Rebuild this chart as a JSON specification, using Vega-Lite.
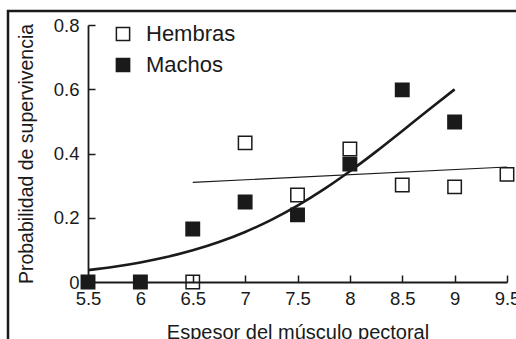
{
  "$schema": "https://vega.github.io/schema/vega-lite/v6.json",
  "width": 520,
  "height": 340,
  "autosize": {"type": "none"},
  "padding": {"left": 8, "top": 11, "right": 0, "bottom": 0},
  "background": "white",
  "config": {
    "view": {"stroke": "#1a1a1a", "strokeWidth": 2.5},
    "font": "Liberation Sans",
    "axis": {
      "grid": false,
      "domainColor": "#1a1a1a",
      "domainWidth": 1.8,
      "tickColor": "#1a1a1a",
      "tickWidth": 1.5,
      "labelColor": "#1a1a1a",
      "titleColor": "#1a1a1a",
      "labelFont": "Liberation Sans",
      "titleFont": "Liberation Sans",
      "titleFontWeight": "normal"
    },
    "legend": {"labelFont": "Liberation Sans"}
  },
  "encoding": {
    "x": {
      "field": "espesor",
      "type": "quantitative",
      "scale": {"domain": [5.5, 9.5], "range": [80, 499], "nice": false, "zero": false},
      "axis": {
        "orient": "bottom",
        "offset": -69,
        "values": [5.5, 6, 6.5, 7, 7.5, 8, 8.5, 9, 9.5],
        "format": "~g",
        "tickSize": -7,
        "labelPadding": 14,
        "labelFontSize": 18.5,
        "labelFlush": false,
        "labelOverlap": false,
        "title": "Espesor del músculo pectoral",
        "titleFontSize": 20,
        "titlePadding": 15
      }
    },
    "y": {
      "field": "prob",
      "type": "quantitative",
      "scale": {"domain": [0, 0.8], "range": [271, 14], "nice": false, "zero": false},
      "axis": {
        "orient": "left",
        "offset": -80,
        "values": [0, 0.2, 0.4, 0.6, 0.8],
        "format": "~g",
        "tickSize": -7,
        "labelPadding": 16,
        "labelFontSize": 18.5,
        "labelFlush": false,
        "labelOverlap": false,
        "title": "Probabilidad de supervivencia",
        "titleFontSize": 19.5,
        "titlePadding": 17
      }
    }
  },
  "layer": [
    {
      "data": {"values": [
        {"espesor": 5.5, "prob": 0.037},
        {"espesor": 5.75, "prob": 0.0475},
        {"espesor": 6.0, "prob": 0.0609},
        {"espesor": 6.25, "prob": 0.0776},
        {"espesor": 6.5, "prob": 0.0986},
        {"espesor": 6.75, "prob": 0.1244},
        {"espesor": 7.0, "prob": 0.1558},
        {"espesor": 7.25, "prob": 0.1934},
        {"espesor": 7.5, "prob": 0.2376},
        {"espesor": 7.75, "prob": 0.2882},
        {"espesor": 8.0, "prob": 0.3447},
        {"espesor": 8.25, "prob": 0.4058},
        {"espesor": 8.5, "prob": 0.4703},
        {"espesor": 8.75, "prob": 0.5356},
        {"espesor": 9.0, "prob": 0.5996}
      ]},
      "mark": {"type": "line", "color": "#1a1a1a", "strokeWidth": 2.6, "interpolate": "monotone"}
    },
    {
      "data": {"values": [
        {"espesor": 6.5, "prob": 0.31},
        {"espesor": 9.5, "prob": 0.358}
      ]},
      "mark": {"type": "line", "color": "#1a1a1a", "strokeWidth": 1.1}
    },
    {
      "data": {"values": [
        {"sexo": "Hembras", "espesor": 6.5, "prob": 0.0},
        {"sexo": "Hembras", "espesor": 7.0, "prob": 0.433},
        {"sexo": "Hembras", "espesor": 7.5, "prob": 0.271},
        {"sexo": "Hembras", "espesor": 8.0, "prob": 0.414},
        {"sexo": "Hembras", "espesor": 8.5, "prob": 0.302},
        {"sexo": "Hembras", "espesor": 9.0, "prob": 0.296},
        {"sexo": "Hembras", "espesor": 9.5, "prob": 0.335},
        {"sexo": "Machos", "espesor": 5.5, "prob": 0.0},
        {"sexo": "Machos", "espesor": 6.0, "prob": 0.0},
        {"sexo": "Machos", "espesor": 6.5, "prob": 0.165},
        {"sexo": "Machos", "espesor": 7.0, "prob": 0.249},
        {"sexo": "Machos", "espesor": 7.5, "prob": 0.209},
        {"sexo": "Machos", "espesor": 8.0, "prob": 0.367},
        {"sexo": "Machos", "espesor": 8.5, "prob": 0.598},
        {"sexo": "Machos", "espesor": 9.0, "prob": 0.498}
      ]},
      "mark": {"type": "point", "shape": "square", "filled": true, "size": 180, "stroke": "#1a1a1a", "strokeWidth": 1.5, "opacity": 1},
      "encoding": {
        "fill": {
          "field": "sexo",
          "type": "nominal",
          "scale": {"domain": ["Hembras", "Machos"], "range": ["rgba(255,255,255,0)", "#1a1a1a"]},
          "legend": {
            "orient": "none",
            "legendX": 104,
            "legendY": 12,
            "title": null,
            "padding": 0,
            "symbolType": "square",
            "symbolSize": 175,
            "symbolStrokeColor": "#1a1a1a",
            "symbolStrokeWidth": 1.5,
            "labelFontSize": 22,
            "labelColor": "#1a1a1a",
            "labelOffset": 12,
            "rowPadding": 9
          }
        }
      }
    }
  ]
}
